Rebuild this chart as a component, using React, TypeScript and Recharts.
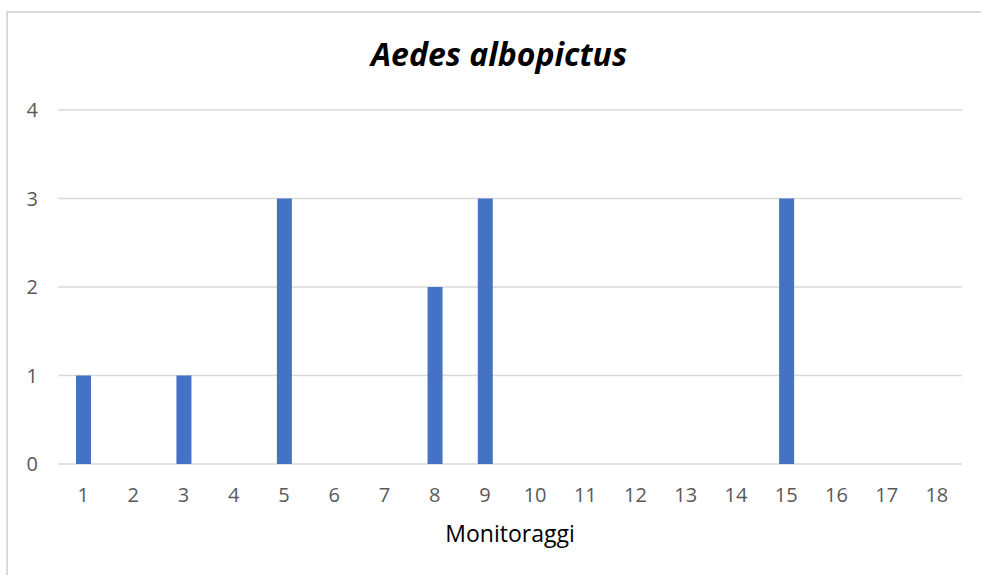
import { Bar, BarChart, CartesianGrid, XAxis, YAxis } from "recharts";

const monitoraggi = ["1", "2", "3", "4", "5", "6", "7", "8", "9", "10", "11", "12", "13", "14", "15", "16", "17", "18"];
const catture = [1, 0, 1, 0, 3, 0, 0, 2, 3, 0, 0, 0, 0, 0, 3, 0, 0, 0];
const yTicks = [0, 1, 2, 3, 4];

const data = monitoraggi.map((m, i) => ({ m, v: catture[i] }));

const font = "'Open Sans', sans-serif";
const axisColor = "#595959";
const gridColor = "#d9d9d9";

export default function App() {
  return (
    <div style={{ position: "absolute", left: 0, top: 0, width: 981, height: 575, background: "#fff", overflow: "hidden", fontFamily: font }}>
      <div style={{ position: "absolute", left: 6, top: 11, width: 1000, height: 600, border: `2px solid ${gridColor}` }} />
      <div
        style={{
          position: "absolute",
          left: 0,
          width: 998,
          top: 34,
          textAlign: "center",
          fontSize: 32,
          fontWeight: 700,
          fontStyle: "italic",
          color: "#000",
          lineHeight: "40px",
        }}
      >
        Aedes albopictus
      </div>
      <BarChart
        width={981}
        height={575}
        data={data}
        margin={{ top: 110, right: 19, bottom: 31, left: 18 }}
        style={{ position: "absolute", left: 0, top: 0 }}
      >
        <CartesianGrid vertical={false} stroke={gridColor} strokeWidth={1.5} />
        <XAxis
          dataKey="m"
          height={80}
          tickLine={false}
          axisLine={false}
          tickSize={0}
          tickMargin={24}
          tick={{ fill: axisColor, fontSize: 20, fontFamily: font }}
          interval={0}
          label={{ value: "Monitoraggi", position: "insideBottom", offset: 2, fill: "#000", fontSize: 23, fontFamily: font }}
        />
        <YAxis
          width={40}
          domain={[0, 4]}
          ticks={yTicks}
          tickLine={false}
          axisLine={false}
          tickSize={0}
          tickMargin={20}
          tick={{ fill: axisColor, fontSize: 20, fontFamily: font }}
        />
        <Bar dataKey="v" fill="#4472C4" barSize={15} isAnimationActive={false} />
      </BarChart>
    </div>
  );
}
